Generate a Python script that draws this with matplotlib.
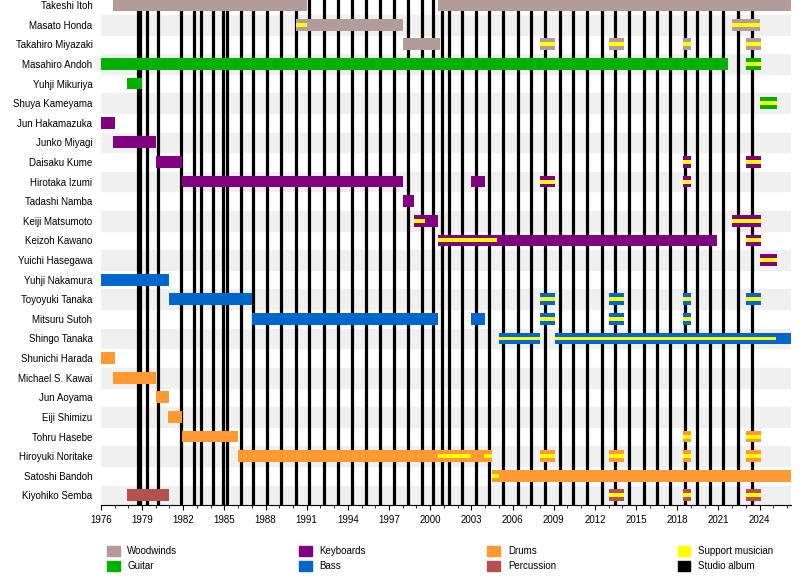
import matplotlib.pyplot as plt
from matplotlib.patches import Patch

END = 2026.3

members = ["Takeshi Itoh", "Masato Honda", "Takahiro Miyazaki", "Masahiro Andoh", "Yuhji Mikuriya",
           "Shuya Kameyama", "Jun Hakamazuka", "Junko Miyagi", "Daisaku Kume", "Hirotaka Izumi",
           "Tadashi Namba", "Keiji Matsumoto", "Keizoh Kawano", "Yuichi Hasegawa", "Yuhji Nakamura",
           "Toyoyuki Tanaka", "Mitsuru Sutoh", "Shingo Tanaka", "Shunichi Harada", "Michael S. Kawai",
           "Jun Aoyama", "Eiji Shimizu", "Tohru Hasebe", "Hiroyuki Noritake", "Satoshi Bandoh",
           "Kiyohiko Semba"]
roles = ["Woodwinds", "Woodwinds", "Woodwinds", "Guitar", "Guitar", "Guitar", "Keyboards", "Keyboards",
         "Keyboards", "Keyboards", "Keyboards", "Keyboards", "Keyboards", "Keyboards", "Bass", "Bass",
         "Bass", "Bass", "Drums", "Drums", "Drums", "Drums", "Drums", "Drums", "Drums", "Percussion"]

# member periods (start, end)
periods = [
    [(1976.9, 1991.0), (2000.55, END)],
    [(1990.2, 1998.0)],
    [(1998.0, 2000.7)],
    [(1976.0, 2021.7)],
    [(1977.9, 1979.0)],
    [],
    [(1976.0, 1977.0)],
    [(1976.9, 1980.0)],
    [(1980.0, 1981.9)],
    [(1981.9, 1998.0), (2003.0, 2004.0)],
    [(1998.0, 1998.8)],
    [(1998.8, 2000.55)],
    [(2000.55, 2020.9)],
    [],
    [(1976.0, 1981.0)],
    [(1981.0, 1987.0)],
    [(1987.0, 2000.55), (2003.0, 2004.0)],
    [(2009.1, END)],
    [(1976.0, 1977.0)],
    [(1976.9, 1980.0)],
    [(1980.0, 1981.0)],
    [(1980.9, 1981.9)],
    [(1981.9, 1986.0)],
    [(1986.0, 2004.5)],
    [(2004.5, END)],
    [(1977.9, 1981.0)],
]

# support musician periods (start, end)
support = [
    [],
    [(1990.2, 1991.0), (2022.0, 2024.0)],
    [(2008.0, 2009.1), (2013.0, 2014.1), (2018.4, 2019.0), (2023.0, 2024.1)],
    [(2023.0, 2024.1)],
    [],
    [(2024.0, 2025.3)],
    [],
    [],
    [(2018.4, 2019.0), (2023.0, 2024.1)],
    [(2008.0, 2009.1), (2018.4, 2019.0)],
    [],
    [(1998.8, 1999.6), (2022.0, 2024.1)],
    [(2000.55, 2004.9), (2023.0, 2024.1)],
    [(2024.0, 2025.3)],
    [],
    [(2008.0, 2009.1), (2013.0, 2014.1), (2018.4, 2019.0), (2023.0, 2024.1)],
    [(2008.0, 2009.1), (2013.0, 2014.1), (2018.4, 2019.0)],
    [(2005.0, 2008.0), (2009.1, 2025.2)],
    [],
    [],
    [],
    [],
    [(2018.4, 2019.0), (2023.0, 2024.1)],
    [(2000.55, 2003.0), (2003.9, 2004.5), (2008.0, 2009.1), (2013.0, 2014.1), (2018.4, 2019.0), (2023.0, 2024.1)],
    [(2004.5, 2005.0)],
    [(2013.0, 2014.1), (2018.4, 2019.0), (2023.0, 2024.1)],
]

albums = [1978.7, 1978.85, 1979.35, 1980.15, 1981.83, 1982.77, 1983.28, 1984.16, 1984.89, 1985.18,
          1986.2, 1987.07, 1988.09, 1989.11, 1990.2, 1991.15, 1992.24, 1993.26, 1994.28, 1995.3,
          1996.32, 1997.34, 1998.36, 1999.38, 2000.18, 2000.84, 2001.35, 2002.29, 2003.31, 2004.26,
          2005.28, 2006.37, 2007.32, 2008.34, 2009.43, 2010.38, 2011.4, 2012.49, 2013.44, 2014.46,
          2015.55, 2016.5, 2017.44, 2018.53, 2019.41, 2020.35, 2021.3, 2022.39, 2023.41]

colors = {"Woodwinds": "#b39b9b", "Guitar": "#00b000", "Keyboards": "#800080", "Bass": "#0066cc",
          "Drums": "#ff9933", "Percussion": "#b35050"}
yellow = "#ffff00"

plt.rcParams['font.family'] = ['Liberation Sans', 'DejaVu Sans']
fig = plt.figure(figsize=(8, 5.8), dpi=100)
ax = fig.add_axes([0.126, 0.129, 0.863, 0.871])

n = len(members)
for i in range(n):
    if i % 2 == 1:
        ax.axhspan(i - 0.5, i + 0.5, color="#f0f0f0", zorder=0)

for a in albums:
    ax.axvline(a, color="black", lw=2.3, zorder=1)

h = 0.6
for i in range(n):
    c = colors[roles[i]]
    for s, e in periods[i]:
        ax.barh(i, e - s, left=s, height=h, color=c, zorder=2)
    for s, e in support[i]:
        ax.barh(i, e - s, left=s, height=h, color=c, zorder=3)
        ax.barh(i, e - s, left=s, height=0.2, color=yellow, zorder=4)

ax.set_yticks(range(n))
ax.set_yticklabels(members, fontsize=7)
ax.tick_params(axis="y", length=0, pad=6)
ax.set_ylim(n - 0.5, -0.26)
ax.set_xlim(1976, END)
ax.set_xticks(range(1976, 2025, 3))
ax.set_xticks(range(1976, 2027), minor=True)
ax.tick_params(axis="x", labelsize=7)
for sp in ["top", "right", "left"]:
    ax.spines[sp].set_visible(False)

handles = [Patch(color=colors["Woodwinds"], label="Woodwinds"), Patch(color=colors["Guitar"], label="Guitar"),
           Patch(color=colors["Keyboards"], label="Keyboards"), Patch(color=colors["Bass"], label="Bass"),
           Patch(color=colors["Drums"], label="Drums"), Patch(color=colors["Percussion"], label="Percussion"),
           Patch(color=yellow, label="Support musician"), Patch(color="black", label="Studio album")]
fig.legend(handles=handles, loc="lower center", ncol=4, frameon=False, fontsize=7,
           bbox_to_anchor=(0.55, 0.0), columnspacing=12.5, handlelength=1.3, handleheight=1.1)

fig.savefig("out.png")
